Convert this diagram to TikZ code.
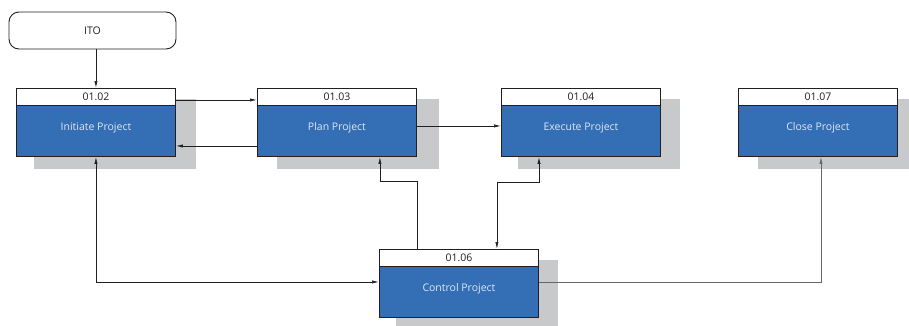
\documentclass[tikz,border=0pt]{standalone}
\usepackage{fontspec}
\setmainfont{Open Sans}
\usetikzlibrary{arrows.meta,calc}

\definecolor{procblue}{HTML}{346EB5}
\definecolor{shadegray}{HTML}{C8C9CA}
\definecolor{inkdark}{HTML}{231F20}
\definecolor{bodytext}{HTML}{DDE7F5}

\tikzset{
  hdr/.style={draw=inkdark, line width=0.9pt, fill=white, minimum width=159pt, minimum height=17pt, inner sep=0pt, anchor=north west, text=inkdark},
  procbody/.style={draw=inkdark, line width=0.9pt, fill=procblue, minimum width=159pt, minimum height=51pt, inner sep=0pt, anchor=north west, text=bodytext, text height=7pt, text depth=7.5pt},
  arr/.style={draw=inkdark, line width=0.7pt, -{Latex[length=7pt,width=3.2pt]}},
  arrboth/.style={draw=inkdark, line width=0.7pt, {Latex[length=7pt,width=3.2pt]}-{Latex[length=7pt,width=3.2pt]}}
}

\begin{document}
\begin{tikzpicture}[x=1pt, y=-1pt, font=\fontsize{10.5}{12}\selectfont]
        \useasboundingbox (0,0) rectangle (909,325);
        \clip (0,0) rectangle (909,325);
        % shadows
        \fill[shadegray] (34,99) rectangle (196,169);
        \fill[shadegray] (277,99) rectangle (439,169);
        \fill[shadegray] (518,99) rectangle (680,169);
        \fill[shadegray] (758,99) rectangle (920,169);
        \fill[shadegray] (396,260) rectangle (558,330);
        % start
        \node[draw=inkdark, line width=0.9pt, rounded corners=10pt, minimum width=167pt, minimum height=37pt, inner sep=0pt, text=inkdark] (ito) at (92.5,30.5) {ITO};
        % processes
        \node[hdr] (h02) at (16,88) {01.02};
        \node[procbody] (b02) at (16,105) {Initiate Project};
        \node[hdr] (h03) at (257,88) {01.03};
        \node[procbody] (b03) at (257,105) {Plan Project};
        \node[hdr] (h04) at (501,88) {01.04};
        \node[procbody] (b04) at (501,105) {Execute Project};
        \node[hdr] (h07) at (738,88) {01.07};
        \node[procbody] (b07) at (738,105) {Close Project};
        \node[hdr] (h06) at (379,249) {01.06};
        \node[procbody] (b06) at (379,266) {Control Project};
        % links
        \draw[arr] (h02.north |- ito.south) -- (h02.north);
        \draw[arr] ([yshift=-3pt]h02.east) -- ([yshift=-3pt]h03.west);
        \draw[arr] ([yshift=-15pt]b03.west) -- ([yshift=-15pt]b02.east);
        \draw[arr] ([yshift=5pt]b03.east) -- ([yshift=5pt]b04.west);
        \draw[arr] ([xshift=38pt]h06.north west) -- ++(0,-68) -| ([xshift=-37pt]b03.south east);
        \draw[arrboth] ([xshift=38pt]b04.south west) -- ++(0,25) -| ([xshift=-42pt]h06.north east);
        \draw[arrboth] ([yshift=10pt]b06.west) -| (b02.south);
        \draw[arr, draw=gray!80!black] ([yshift=10pt]b06.east) -| ([xshift=3pt]b07.south);
\end{tikzpicture}
\end{document}
